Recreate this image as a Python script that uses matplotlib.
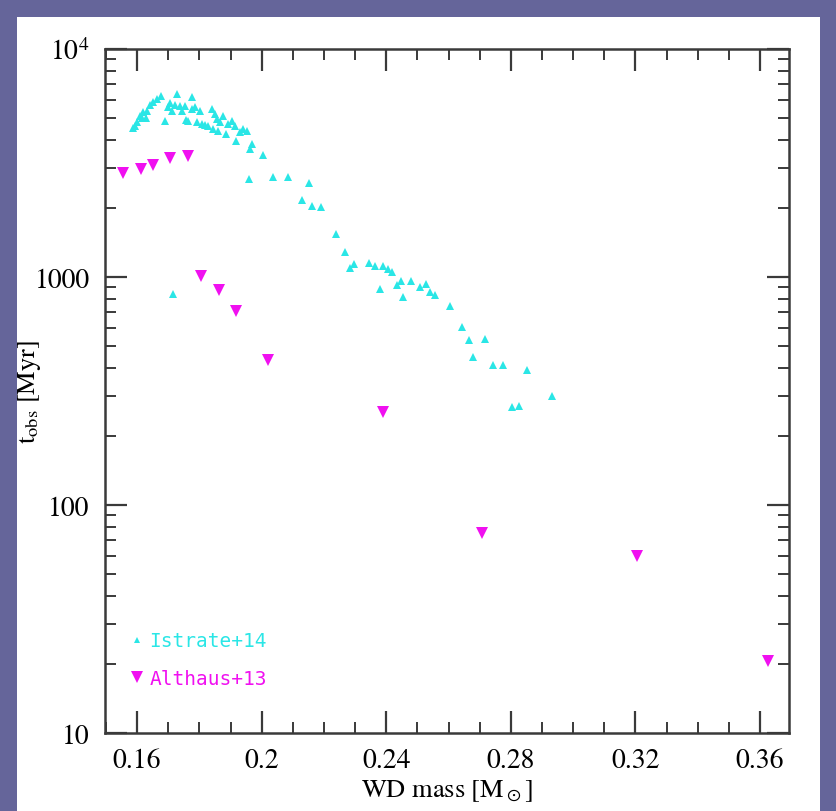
import matplotlib
matplotlib.use("Agg")
import matplotlib.pyplot as plt
from matplotlib.lines import Line2D
from matplotlib.patches import Rectangle
from matplotlib.ticker import FixedLocator, FixedFormatter, MultipleLocator, LogLocator, NullFormatter

# ---------------------------------------------------------------------------
# Data
# ---------------------------------------------------------------------------
istrate_mass = [0.1588, 0.1594, 0.1601, 0.1610, 0.1615, 0.1620, 0.1628, 0.1631,
                0.1642, 0.1652, 0.1663, 0.1676, 0.1690, 0.1698, 0.1706, 0.1711,
                0.1722, 0.1727, 0.1738, 0.1743, 0.1754, 0.1757, 0.1765, 0.1775,
                0.1775, 0.1786, 0.1792, 0.1802, 0.1808, 0.1818, 0.1829, 0.1840,
                0.1845, 0.1850, 0.1856, 0.1861, 0.1866, 0.1877, 0.1885, 0.1893,
                0.1904, 0.1914, 0.1919, 0.1930, 0.1941, 0.1952, 0.1962, 0.1968,
                0.2005, 0.1960, 0.2035, 0.2085, 0.2153, 0.2128, 0.2163, 0.2190,
                0.2238, 0.2266, 0.2283, 0.2296, 0.2346, 0.2365, 0.2389, 0.2405,
                0.2420, 0.2381, 0.2433, 0.2447, 0.2455, 0.2480, 0.2509, 0.2528,
                0.2540, 0.2556, 0.2606, 0.2642, 0.2666, 0.2718, 0.2679, 0.2743,
                0.2775, 0.2853, 0.2933, 0.2803, 0.2826, 0.1716]
istrate_tobs = [4490, 4610, 4770, 5100, 4980, 5280, 4970, 5360,
                5680, 5870, 6040, 6240, 4850, 5550, 5800, 5360,
                5680, 6350, 5640, 5360, 5610, 4900, 4850, 6140,
                5450, 5550, 4770, 5360, 4690, 4640, 4610, 5450,
                4460, 5190, 4930, 4380, 4770, 5100, 4240, 4690,
                4850, 4610, 3960, 4310, 4460, 4380, 3660, 3830,
                3420, 2680, 2750, 2750, 2580, 2180, 2050, 2030,
                1540, 1290, 1100, 1140, 1148, 1120, 1117, 1079,
                1057, 886, 918, 965, 821, 958, 907, 932,
                862, 836, 746, 602, 529, 535, 444, 413,
                411, 392, 302, 268, 271, 842]

althaus_mass = [0.1554, 0.1612, 0.1650, 0.1706, 0.1762, 0.1805, 0.1863,
                0.1917, 0.2019, 0.2389, 0.2707, 0.3205, 0.3624]
althaus_tobs = [2860, 2980, 3100, 3340, 3400, 1010, 877,
                711, 432, 256, 75, 60, 20.7]

x_ticks = [0.16, 0.20, 0.24, 0.28, 0.32, 0.36]
x_ticklabels = ["0.16", "0.2", "0.24", "0.28", "0.32", "0.36"]
y_ticks = [10, 100, 1000, 10000]
y_ticklabels = ["10", "100", "1000", r"$10^4$"]

CYAN = "#2ae6e6"
MAGENTA = "#f010f0"
FRAME = "#3a3a3a"

plt.rcParams["font.family"] = "STIXGeneral"
plt.rcParams["mathtext.fontset"] = "stix"

# ---------------------------------------------------------------------------
# Figure
# ---------------------------------------------------------------------------
fig = plt.figure(figsize=(8.37, 8.12), dpi=100, facecolor="#65659a")
fig.patches.append(Rectangle((17 / 837, 0), 803 / 837, 794 / 812,
                             transform=fig.transFigure, facecolor="white",
                             edgecolor="none", zorder=-10))

ax = fig.add_axes([105 / 837, 78 / 812, 684 / 837, 684 / 812])
ax.set_zorder(1)
ax.patch.set_alpha(0)

ax.plot(istrate_mass, istrate_tobs, linestyle="none", marker="^", ms=6,
        color=CYAN, markeredgewidth=0)
ax.plot(althaus_mass, althaus_tobs, linestyle="none", marker="v", ms=9,
        color=MAGENTA, markeredgewidth=0)

ax.set_yscale("log")
ax.set_xlim(0.1497, 0.3693)
ax.set_ylim(10, 10000)

ax.xaxis.set_major_locator(FixedLocator(x_ticks))
ax.xaxis.set_major_formatter(FixedFormatter(x_ticklabels))
ax.xaxis.set_minor_locator(MultipleLocator(0.01))
ax.yaxis.set_major_locator(FixedLocator(y_ticks))
ax.yaxis.set_major_formatter(FixedFormatter(y_ticklabels))
ax.yaxis.set_minor_locator(LogLocator(base=10, subs=range(2, 10)))
ax.yaxis.set_minor_formatter(NullFormatter())

ax.tick_params(which="both", direction="in", top=True, right=True,
               color=FRAME, labelsize=20)
ax.tick_params(which="major", length=16, width=1.6, pad=11)
ax.tick_params(which="minor", length=8, width=1.4)
for sp in ax.spines.values():
    sp.set_linewidth(1.8)
    sp.set_color(FRAME)

ax.set_xlabel(r"WD mass [M$_\odot$]", fontsize=19, labelpad=3)
ax.set_ylabel(r"t$_\mathrm{obs}$ [Myr]", fontsize=19)
ax.yaxis.set_label_coords(-0.09, 0.5)

# Legend in the lower-left corner
handles = [
    Line2D([], [], linestyle="none", marker="^", ms=4, color=CYAN,
           markeredgewidth=0, label="Istrate+14"),
    Line2D([], [], linestyle="none", marker="v", ms=8, color=MAGENTA,
           markeredgewidth=0, label="Althaus+13"),
]
leg = ax.legend(handles=handles, loc="lower left",
                bbox_to_anchor=(0.0365, 0.066), frameon=False,
                borderpad=0, borderaxespad=0, handlelength=0.7,
                handletextpad=0.3, labelspacing=0.95, numpoints=1,
                prop={"family": "DejaVu Sans Mono", "size": 14})
for txt, c in zip(leg.get_texts(), [CYAN, MAGENTA]):
    txt.set_color(c)

fig.savefig("out.png", dpi=100, facecolor=fig.get_facecolor())
